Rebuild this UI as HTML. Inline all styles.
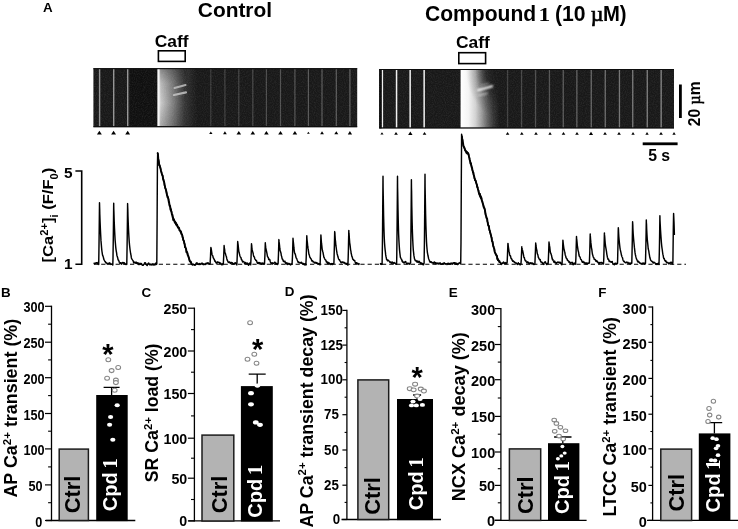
<!DOCTYPE html>
<html lang="en"><head><meta charset="utf-8"><title>Figure</title>
<style>html,body{margin:0;padding:0;background:#fff}svg{display:block}text{font-family:"Liberation Sans", Arial, Helvetica, sans-serif;font-weight:bold;fill:#000}.sf{font-family:"Liberation Serif", "Times New Roman", serif}</style>
</head><body>
<svg width="738" height="529" viewBox="0 0 738 529">
<defs>
<linearGradient id="gc" x1="0" x2="1" y1="0" y2="0"><stop offset="0" stop-color="#ffffff"/><stop offset="0.045" stop-color="#f0f0f0"/><stop offset="0.085" stop-color="#cacaca"/><stop offset="0.23" stop-color="#a6a6a6"/><stop offset="0.38" stop-color="#828282"/><stop offset="0.54" stop-color="#585858"/><stop offset="0.68" stop-color="#363636"/><stop offset="0.84" stop-color="#242424"/><stop offset="1" stop-color="#181818"/></linearGradient>
<linearGradient id="gd" x1="0" x2="1" y1="0" y2="0"><stop offset="0" stop-color="#ffffff"/><stop offset="0.2" stop-color="#f4f4f4"/><stop offset="0.38" stop-color="#d2d2d2"/><stop offset="0.52" stop-color="#a2a2a2"/><stop offset="0.68" stop-color="#646464"/><stop offset="0.84" stop-color="#343434"/><stop offset="1" stop-color="#181818"/></linearGradient>
<radialGradient id="gdiag" cx="1" cy="0" r="1"><stop offset="0" stop-color="#181818" stop-opacity="1"/><stop offset="0.4" stop-color="#181818" stop-opacity="0.82"/><stop offset="0.72" stop-color="#181818" stop-opacity="0.25"/><stop offset="1" stop-color="#181818" stop-opacity="0"/></radialGradient>
<linearGradient id="gv" x1="0" x2="0" y1="0" y2="1"><stop offset="0" stop-color="#181818" stop-opacity="0.38"/><stop offset="0.25" stop-color="#181818" stop-opacity="0.1"/><stop offset="0.6" stop-color="#181818" stop-opacity="0"/><stop offset="1" stop-color="#181818" stop-opacity="0.2"/></linearGradient>
<filter id="gr" x="0" y="0" width="100%" height="100%"><feTurbulence type="fractalNoise" baseFrequency="0.9" numOctaves="2" seed="3" result="n"/><feColorMatrix in="n" type="matrix" values="0 0 0 0 1  0 0 0 0 1  0 0 0 0 1  0.9 0 0 0 -0.32"/></filter>
<filter id="bl" x="-20%" y="-50%" width="140%" height="200%"><feGaussianBlur stdDeviation="0.5"/></filter>
<filter id="bl3" x="-20%" y="-80%" width="140%" height="260%"><feGaussianBlur stdDeviation="0.8"/></filter>
<filter id="bl2" x="-300%" y="-5%" width="700%" height="110%"><feGaussianBlur stdDeviation="0.35 0"/></filter>
</defs>
<rect width="738" height="529" fill="#fff"/>
<text x="42.9" y="11.9" font-size="13.4">A</text>
<text x="197.8" y="17.2" font-size="20.9">Control</text>
<text x="425" y="21.3" font-size="21.3" textLength="111.2" lengthAdjust="spacingAndGlyphs">Compound</text>
<text transform="translate(538.4 21.1) scale(1.32 1)" font-size="17.8" class="sf">1</text>
<text x="555" y="21.3" font-size="21.2" textLength="30.6" lengthAdjust="spacingAndGlyphs">(10</text>
<text x="590.8" y="21.2" font-size="22" class="sf" style="font-weight:normal" stroke="#000" stroke-width="0.7">µ</text>
<text x="603" y="21.3" font-size="21.2" textLength="23.6" lengthAdjust="spacingAndGlyphs">M)</text>
<text x="154.8" y="46.8" font-size="17.4">Caff</text>
<rect x="158.4" y="50.8" width="26.8" height="10.6" fill="#fff" stroke="#000" stroke-width="1.6"/>
<text x="456" y="48.3" font-size="17.4">Caff</text>
<rect x="458.8" y="52.7" width="26.8" height="10.9" fill="#fff" stroke="#000" stroke-width="1.6"/>
<g>
<rect x="93.4" y="68.2" width="263.8" height="59" fill="#181818"/>
<rect x="130" y="68.8" width="27.4" height="57.3" fill="#0f0f0f"/>
<rect x="157.4" y="68.8" width="40" height="57.3" fill="url(#gc)"/>
<rect x="159.6" y="68.8" width="27.8" height="57.3" fill="url(#gv)"/>
<rect x="98.9" y="69" width="1.4" height="57.4" fill="#949494"/>
<rect x="113" y="69" width="1.4" height="57.4" fill="#949494"/>
<rect x="127" y="69" width="1.4" height="57.4" fill="#949494"/>
<rect x="210.2" y="69" width="1.2" height="57" fill="#3e3e3e"/>
<rect x="224.3" y="69" width="1.2" height="57" fill="#414141"/>
<rect x="238.2" y="69" width="1.2" height="57" fill="#454545"/>
<rect x="252.2" y="69" width="1.2" height="57" fill="#484848"/>
<rect x="265.8" y="69" width="1.2" height="57" fill="#4c4c4c"/>
<rect x="279.9" y="69" width="1.2" height="57" fill="#505050"/>
<rect x="294.3" y="69" width="1.2" height="57" fill="#535353"/>
<rect x="307.8" y="69" width="1.2" height="57" fill="#575757"/>
<rect x="321.4" y="69" width="1.2" height="57" fill="#5a5a5a"/>
<rect x="335.7" y="69" width="1.2" height="57" fill="#5e5e5e"/>
<rect x="349.3" y="69" width="1.2" height="57" fill="#626262"/>
<path d="M174.5 88 L185.5 85" stroke="#c4c4c4" stroke-width="2.2" stroke-linecap="round" filter="url(#bl)" opacity="0.8"/>
<path d="M174 95 L186 92.4" stroke="#cccccc" stroke-width="2.2" stroke-linecap="round" filter="url(#bl)" opacity="0.8"/>
<rect x="93.4" y="68.2" width="263.8" height="59" filter="url(#gr)" opacity="0.16"/>
<rect x="93.4" y="68.2" width="263.8" height="1" fill="#0c0c0c"/>
<rect x="93.4" y="126.2" width="263.8" height="1" fill="#0c0c0c"/>
</g>
<g>
<rect x="379.2" y="69" width="294.8" height="59.4" fill="#181818"/>
<rect x="460.6" y="69.6" width="39" height="58.2" fill="url(#gd)"/>
<rect x="466" y="69.6" width="33.6" height="48" fill="url(#gdiag)"/>
<rect x="381.6" y="69.6" width="1.5" height="58.2" fill="#f0f0f0"/>
<rect x="395.8" y="69.6" width="1.5" height="58.2" fill="#f0f0f0"/>
<rect x="409.4" y="69.6" width="1.5" height="58.2" fill="#f0f0f0"/>
<rect x="423.4" y="69.6" width="1.5" height="58.2" fill="#f0f0f0"/>
<rect x="379.2" y="69" width="2.4" height="59.4" fill="#0a0a0a"/>
<rect x="506.9" y="69.6" width="1.3" height="58.2" fill="#404040"/>
<rect x="520.9" y="69.6" width="1.3" height="58.2" fill="#464646"/>
<rect x="534.9" y="69.6" width="1.3" height="58.2" fill="#4d4d4d"/>
<rect x="548.8" y="69.6" width="1.3" height="58.2" fill="#535353"/>
<rect x="562.6" y="69.6" width="1.3" height="58.2" fill="#5a5a5a"/>
<rect x="576.2" y="69.6" width="1.3" height="58.2" fill="#606060"/>
<rect x="590.6" y="69.6" width="1.3" height="58.2" fill="#676767"/>
<rect x="604.6" y="69.6" width="1.3" height="58.2" fill="#6d6d6d"/>
<rect x="618.8" y="69.6" width="1.3" height="58.2" fill="#747474"/>
<rect x="632.1" y="69.6" width="1.3" height="58.2" fill="#7a7a7a"/>
<rect x="646.6" y="69.6" width="1.3" height="58.2" fill="#818181"/>
<rect x="660.5" y="69.6" width="1.3" height="58.2" fill="#888888"/>
<path d="M478 90.2 L492 86.2" stroke="#fff" stroke-width="2.2" stroke-linecap="round" filter="url(#bl3)"/>
<path d="M478.5 95.4 L487 93.4" stroke="#e8e8e8" stroke-width="1.6" stroke-linecap="round" filter="url(#bl3)" opacity="0.6"/>
<path d="M481.5 85.4 L488.5 83.4" stroke="#e8e8e8" stroke-width="1.4" stroke-linecap="round" filter="url(#bl3)" opacity="0.5"/>
<rect x="379.2" y="69" width="294.8" height="59.4" filter="url(#gr)" opacity="0.16"/>
<rect x="379.2" y="69" width="294.8" height="1" fill="#0c0c0c"/>
<rect x="379.2" y="127.4" width="294.8" height="1" fill="#0c0c0c"/>
</g>
<path d="M99.4 130.7 l2.4 3.7 h-4.9 z" fill="#000"/>
<path d="M113.6 130.7 l2.4 3.7 h-4.9 z" fill="#000"/>
<path d="M127.7 130.7 l2.4 3.7 h-4.9 z" fill="#000"/>
<path d="M210.8 131.5 l1.7 2.6 h-3.3 z" fill="#000"/>
<path d="M224.9 131.3 l1.9 2.9 h-3.7 z" fill="#000"/>
<path d="M238.8 131 l2.3 3.5 h-4.6 z" fill="#000"/>
<path d="M252.8 131 l2.3 3.5 h-4.6 z" fill="#000"/>
<path d="M266.4 131 l2.3 3.5 h-4.6 z" fill="#000"/>
<path d="M280.5 131 l2.3 3.5 h-4.6 z" fill="#000"/>
<path d="M294.9 131 l2.3 3.5 h-4.6 z" fill="#000"/>
<path d="M308.4 131.7 l1.4 2.1 h-2.8 z" fill="#000"/>
<path d="M322 131.3 l1.9 2.9 h-3.7 z" fill="#000"/>
<path d="M336.3 131.2 l2 3.1 h-4 z" fill="#000"/>
<path d="M349.9 131.1 l2.2 3.3 h-4.3 z" fill="#000"/>
<path d="M382 132.2 l1.5 2.3 h-3.1 z" fill="#000"/>
<path d="M396 131.9 l1.9 2.9 h-3.7 z" fill="#000"/>
<path d="M410.3 131.6 l2.2 3.4 h-4.4 z" fill="#000"/>
<path d="M424.5 131.9 l1.9 2.9 h-3.7 z" fill="#000"/>
<path d="M507.6 131.9 l1.8 2.8 h-3.6 z" fill="#000"/>
<path d="M521.8 131.9 l1.8 2.8 h-3.6 z" fill="#000"/>
<path d="M536 131.9 l1.8 2.8 h-3.6 z" fill="#000"/>
<path d="M550 132.1 l1.7 2.6 h-3.3 z" fill="#000"/>
<path d="M563.5 131.9 l1.8 2.8 h-3.6 z" fill="#000"/>
<path d="M577 131.9 l1.8 2.8 h-3.6 z" fill="#000"/>
<path d="M591 131.7 l2.1 3.2 h-4.2 z" fill="#000"/>
<path d="M605 131.9 l1.9 2.9 h-3.7 z" fill="#000"/>
<path d="M619 131.9 l1.9 2.9 h-3.7 z" fill="#000"/>
<path d="M633 132.1 l1.7 2.6 h-3.3 z" fill="#000"/>
<path d="M647 132.1 l1.7 2.6 h-3.3 z" fill="#000"/>
<path d="M661 131.9 l1.9 2.9 h-3.7 z" fill="#000"/>
<path d="M674 132.1 l1.7 2.6 h-3.3 z" fill="#000"/>
<rect x="679" y="84.5" width="2.8" height="33.5" fill="#000"/>
<text transform="translate(699.8 126.2) rotate(-90)" font-size="15.6">20 <tspan font-family='"Liberation Serif", "Times New Roman", serif' font-weight="normal" stroke="#000" stroke-width="0.5" font-size="16">µ</tspan>m</text>
<rect x="642.7" y="142.4" width="34.9" height="2.8" fill="#000"/>
<text x="648.2" y="161" font-size="15.8">5 s</text>
<path d="M75.4 171 H81.7 V264.2 H75.4" fill="none" stroke="#000" stroke-width="1.6"/>
<text x="64" y="177.6" font-size="15.4">5</text>
<text x="64" y="269.4" font-size="15.4">1</text>
<text transform="translate(52.9 262.4) rotate(-90) scale(1.085 1)" font-size="15.3">[Ca<tspan font-size="10.2" dy="-4.6">2+</tspan><tspan dy="4.6">]</tspan><tspan font-size="10.2" dy="4.8">i</tspan><tspan dy="-4.8"> (F/F</tspan><tspan font-size="10.2" dy="4.8">0</tspan><tspan dy="-4.8">)</tspan></text>
<path d="M94 264.3 H686" stroke="#000" stroke-width="1.1" stroke-dasharray="4.2 3" fill="none"/>
<path d="M93.8 263.7 94.1 263.3 94.4 263.8 94.7 263.2 95 263.5 95.3 263.5 95.6 262.9 95.9 263.3 96.2 262.8 96.5 263.1 96.8 262.7 97.1 262.5 97.4 262.9 97.7 263.8 98 263.3 98.3 263.1 98.6 263.6 98.7 264.5 98.9 252 99.1 237.4 99.2 230.2 99.5 202.8 99.7 209.2 99.8 213.9 100.1 222.3 100.4 229.2 100.7 235.2 101 240.9 101.3 244.4 101.6 248 101.9 251 102.2 252.9 102.5 254.9 102.8 255.6 103.1 256.4 103.4 257.3 103.7 258.9 104 259.6 104.3 260.1 104.6 260.9 104.9 261.3 105.2 261.4 105.5 262.3 105.8 262.8 106.1 262.5 106.4 262.8 106.7 263 107 263.7 107.3 263.9 107.6 263.4 107.9 264.2 108.2 263.3 108.5 263.3 108.8 263.8 109.1 263.2 109.4 263.3 109.7 262.7 110 263.3 110.3 263.9 110.6 264 110.9 264.5 111.2 264 111.5 264.2 111.8 264.2 112.1 264.2 112.4 264 112.7 264.5 112.8 265 113 258.2 113.3 237.9 113.6 211.9 113.7 203.2 113.8 209.1 113.9 211.6 114.2 221.3 114.5 228.4 114.8 234.4 115.1 239.9 115.4 243.2 115.7 246.8 116 249.3 116.3 251.3 116.6 252.9 116.9 255.4 117.2 256.3 117.5 257.3 117.8 258.3 118.1 259.9 118.4 259.9 118.7 260.5 119 261.2 119.3 262.2 119.6 262.9 119.9 263.4 120.2 262.9 120.5 262.8 120.8 262.7 121.1 263.5 121.4 264.2 121.7 263.3 122 262.9 122.3 262.6 122.6 262.5 122.9 262.9 123.2 263.3 123.5 263 123.8 262.5 124.1 262.8 124.4 262.9 124.7 263.3 125 264.2 125.3 264.4 125.6 264.2 125.9 264.3 126.2 264.4 126.5 263.5 126.8 264.3 126.8 263 127.1 245.8 127.2 238.6 127.4 221.8 127.6 203.6 127.7 206.9 127.8 209.1 128 216.7 128.3 224.6 128.6 231.2 128.9 236.6 129.2 241.4 129.5 244.7 129.8 247.5 130.1 250 130.4 252 130.7 254 131 255.1 131.3 257.4 131.6 258.7 131.9 259 132.2 259.5 132.5 260 132.8 260.5 133.1 260.6 133.4 261.8 133.7 262.9 134 262.8 134.3 262.9 134.6 262.3 134.9 262 135.2 262.2 135.5 262.2 135.8 263.2 136.1 262.7 136.4 262.2 136.7 263.4 137 263.5 137.3 263 137.6 263.3 137.9 262.7 138.2 263.1 138.5 264.1 138.8 264.6 139.1 264.6 139.4 263.9 139.7 263.7 140 263.2 140.3 263.9 140.6 263.9 140.9 264.3 141.2 263.9 141.5 263.5 141.8 264.2 142.1 264.9 142.4 265.2 142.7 265.2 143 265.3 143.3 265.2 143.6 264.4 143.9 264.3 144.2 263.9 144.5 263.2 144.8 262.7 145.1 262.8 145.4 262.8 145.7 263.6 146 264.4 146.3 264.2 146.6 264.8 146.9 265.3 147.2 265.6 147.5 264.8 147.8 264.1 148.1 263.6 148.4 263.3 148.7 263 149 263.6 149.3 264.4 149.6 264.8 149.9 264.5 150.2 264.6 150.5 264.8 150.8 263.9 151.1 264.2 151.4 264.8 151.7 265 152 265 152.3 264.6 152.6 263.9 152.9 264.4 153.2 264 153.5 264.5 153.8 265.1 154.1 264.5 154.4 264.2 154.7 264.8 155 264.9 155.3 264.1 155.6 263.4 155.9 263.1 156.2 264 156.5 264.5 156.8 263.8 157.1 221.3 157.4 167.9 157.7 153.1 158 154.9 158.3 159 158.6 160.3 158.9 162.4 159.2 165.2 159.5 165 159.8 166 160.1 167.1 160.4 167.9 160.7 169.4 161 171 161.3 171.7 161.6 172.9 161.9 174.1 162.2 175.1 162.5 175.3 162.8 176.8 163.1 179.2 163.4 179.5 163.7 181.2 164 181.4 164.3 182.9 164.6 185.3 164.9 186 165.2 188 165.5 188.5 165.8 189.4 166.1 190.5 166.4 191.8 166.7 193.5 167 195.2 167.3 195.6 167.6 197.4 167.9 197 168.2 198.2 168.5 199.4 168.8 202.1 169.1 202 169.4 204.3 169.7 206 170 205.8 170.3 207.4 170.6 209.9 170.9 209.2 171.2 211.2 171.5 211.7 171.8 214 172.1 214.8 172.4 214.8 172.7 217.3 173 217.3 173.3 220 173.6 219 173.9 219.4 174.2 220.4 174.5 221.3 174.8 222.6 175.1 221.7 175.4 223.1 175.7 222.6 176 224.4 176.3 223.5 176.6 225.3 176.9 224.6 177.2 225 177.5 226.4 177.8 227.1 178.1 227 178.4 228 178.7 227.6 179 228 179.3 229.1 179.6 230.5 179.9 230.5 180.2 230.6 180.5 230.9 180.8 232.5 181.1 231.8 181.4 233.9 181.7 234.1 182 234.4 182.3 235.4 182.6 237.3 182.9 237.7 183.2 239.8 183.5 240.3 183.8 240.8 184.1 242 184.4 243.6 184.7 244.4 185 247.1 185.3 246.8 185.6 247.8 185.9 248.5 186.2 249.7 186.5 252.2 186.8 251.6 187.1 252.7 187.4 253 187.7 255 188 255.4 188.3 256 188.6 257.1 188.9 258 189.2 259.1 189.5 260.2 189.8 261.1 190.1 261.5 190.4 261.3 190.7 263.1 191 263 191.3 262 191.6 264.4 191.9 264.5 192.2 264.7 192.5 265 192.8 264 193.1 264.1 193.4 264.1 193.7 264.6 194 264.9 194.3 265.1 194.6 264.8 194.9 265.2 195.2 265.1 195.5 265 195.8 264.2 196.1 263.4 196.4 263 196.7 263.1 197 262.8 197.3 263.8 197.6 263.9 197.9 264.2 198.2 264.3 198.5 264.5 198.8 264.3 199.1 263.4 199.4 264.1 199.7 264.5 200 264.3 200.3 264.3 200.6 264.4 200.9 263.6 201.2 264.1 201.5 263.7 201.8 263.1 202.1 263 202.4 263.7 202.7 263.4 203 264 203.3 264.7 203.6 264.5 203.9 264.1 204.2 264 204.5 264.3 204.8 264.6 205.1 264.6 205.4 264.6 205.7 263.7 206 263.3 206.3 263.1 206.6 263.8 206.9 263.6 207.2 263.8 207.5 263.1 207.8 262.7 208.1 262.8 208.4 263.5 208.7 264 209 264.3 209.3 263.8 209.6 263.9 209.9 263.9 210.1 263.9 210.2 261.5 210.5 256.7 210.8 249.1 210.9 247.4 211.1 249 211.1 248.2 211.4 250 211.7 252.2 212 254.2 212.3 255.1 212.6 255.6 212.9 256.1 213.2 257.9 213.5 258 213.8 258.9 214.1 258.9 214.4 259.7 214.7 261 215 260.6 215.3 261.6 215.6 261.8 215.9 262.6 216.2 262.9 216.5 262.4 216.8 263.2 217.1 263.1 217.4 262.3 217.7 261.8 218 262.3 218.3 262.6 218.6 262.6 218.9 262.3 219.2 262.5 219.5 262.6 219.8 263.5 220.1 262.8 220.4 263.5 220.7 264.1 221 263.4 221.3 264.2 221.6 264.4 221.9 264.9 222.2 264.2 222.5 263.9 222.8 263.7 223.1 264.6 223.2 264.5 223.4 262.2 223.7 256.3 224 248.8 224.1 245.5 224.2 246.3 224.3 247.6 224.6 249.3 224.9 251.9 225.2 252.9 225.5 253.8 225.8 255.2 226.1 255.8 226.4 256.7 226.7 258.4 227 259.6 227.3 260.4 227.6 260.8 227.9 261.6 228.2 262.3 228.5 262.3 228.8 262.6 229.1 261.8 229.4 262.4 229.7 262.4 230 263 230.3 263.2 230.6 262.8 230.9 262.2 231.2 263.3 231.5 262.7 231.8 262.9 232.1 262.9 232.4 262.8 232.7 263.4 233 264.3 233.3 263.7 233.6 263.9 233.9 263.6 234.2 263.7 234.5 263.6 234.8 263.1 235.1 262.8 235.4 262.7 235.7 263.8 236 263.8 236.3 263.4 236.6 264.2 236.8 264.9 236.9 263.9 237.2 256.9 237.3 253.9 237.5 247.7 237.7 241.5 237.8 242.1 237.8 242.5 238.1 244.7 238.4 247.5 238.7 250.3 239 252.3 239.3 253.4 239.6 254.5 239.9 255.7 240.2 256.5 240.5 257.2 240.8 257.4 241.1 258.1 241.4 259.7 241.7 259.6 242 260.3 242.3 261 242.6 261.9 242.9 261.6 243.2 261.5 243.5 261.5 243.8 261.8 244.1 262.1 244.4 263.2 244.7 263.7 245 264.1 245.3 263.1 245.6 262.5 245.9 263.1 246.2 263.9 246.5 263.8 246.8 263.8 247.1 263 247.4 263.1 247.7 264 248 264.4 248.3 264.8 248.6 265.2 248.9 264.3 249.2 263.5 249.5 263.1 249.8 263.4 250.1 263.9 250.4 264.6 250.7 264.7 250.7 264.2 251 258.6 251.1 255.8 251.3 250.4 251.5 243.7 251.6 245.1 251.7 245 251.9 247.8 252.2 249.9 252.5 251.1 252.8 252.1 253.1 253.2 253.4 254.9 253.7 256.4 254 256.6 254.3 256.9 254.6 258.1 254.9 259 255.2 259.5 255.5 259.7 255.8 260.5 256.1 260.2 256.4 260.5 256.7 261.1 257 262.3 257.3 262.7 257.6 263.4 257.9 263.2 258.2 262.7 258.5 262.5 258.8 263.5 259.1 263.8 259.4 263.3 259.7 262.6 260 263 260.3 263.5 260.6 263.4 260.9 263.1 261.2 263.6 261.5 264.3 261.8 263.7 262.1 263 262.4 263 262.7 263.2 263 263.7 263.3 263.3 263.6 264 263.9 264.3 264.2 264.2 264.4 263.6 264.5 263.9 264.8 257.5 264.9 255.5 265.1 249.3 265.3 242.8 265.4 244.3 265.4 244.4 265.7 247.2 266 249.1 266.3 250.3 266.6 251.6 266.9 253.1 267.2 254.8 267.5 256.6 267.8 256.8 268.1 257.5 268.4 257.9 268.7 259.5 269 259.4 269.3 259.3 269.6 259.4 269.9 260.1 270.2 261.4 270.5 262.3 270.8 262.7 271.1 263.5 271.4 264 271.7 263.3 272 262.7 272.3 263.6 272.6 263.9 272.9 262.9 273.2 263.4 273.5 263.2 273.8 263.1 274.1 263 274.4 262.7 274.7 262.2 275 262.4 275.3 262.6 275.6 263.8 275.9 263.2 276.2 264.1 276.5 263.6 276.8 263.4 277.1 264.1 277.4 264.5 277.7 264.2 278 263.4 278.1 263.5 278.3 258.6 278.5 253.8 278.6 250.1 278.9 239.6 279.1 241.9 279.2 242.5 279.5 245.2 279.8 248.2 280.1 250.5 280.4 251.3 280.7 252.2 281 253.2 281.3 255.5 281.6 256.2 281.9 257.7 282.2 259.1 282.5 259.2 282.8 259.4 283.1 260.8 283.4 261.2 283.7 261 284 261.7 284.3 261.6 284.6 261.6 284.9 261.2 285.2 262.1 285.5 263.1 285.8 263.3 286.1 264 286.4 263 286.7 262.7 287 262.9 287.3 263.8 287.6 264.5 287.9 264 288.2 263.5 288.5 263.4 288.8 263.5 289.1 264.3 289.4 263.6 289.7 264.1 290 264.4 290.3 264.7 290.6 264.9 290.9 264.7 291.2 264.1 291.5 263.8 291.8 263.6 292.1 264.2 292.1 263.4 292.4 258.1 292.6 253 292.7 249.4 293 238.3 293.1 239.5 293.3 241.6 293.6 244.3 293.9 247.7 294.2 250.3 294.5 252.6 294.8 253.4 295.1 253.9 295.4 254.6 295.7 256 296 257.4 296.3 258.1 296.6 258.5 296.9 259.1 297.2 260 297.5 260.8 297.8 261.5 298.1 262.3 298.4 262.5 298.7 261.9 299 262.7 299.3 262.4 299.6 262.7 299.9 262.6 300.2 263.2 300.5 262.7 300.8 262.5 301.1 262.4 301.4 262.3 301.7 263.3 302 263.5 302.3 263.3 302.6 263.3 302.9 264.2 303.2 264.1 303.5 263.5 303.8 264.1 304.1 264.3 304.4 264.9 304.7 263.9 305 263.8 305.3 264.4 305.6 264.7 305.9 265.1 305.9 263.9 306.2 257.9 306.4 250.8 306.5 246.9 306.8 235.8 306.9 237.8 307.1 240.3 307.4 242.9 307.7 246.2 308 248.2 308.3 249.7 308.6 252 308.9 254.2 309.2 254.6 309.5 255.9 309.8 257.1 310.1 257.5 310.4 258.1 310.7 258.4 311 258.8 311.3 259.3 311.6 260.2 311.9 261.1 312.2 261 312.5 260.7 312.8 261.1 313.1 261.9 313.4 261.8 313.7 261.9 314 261.9 314.3 262.8 314.6 263.1 314.9 262.5 315.2 262.2 315.5 262.5 315.8 262.9 316.1 263.4 316.4 262.8 316.7 262.6 317 263.3 317.3 263.3 317.6 263.1 317.9 263.1 318.2 264.1 318.5 263.7 318.8 263.9 319.1 263.6 319.4 263.6 319.7 264.3 320 264.9 320.1 264.4 320.3 258 320.5 251.9 320.6 247.7 320.9 235 321.1 237.9 321.2 239.5 321.5 243.2 321.8 245.6 322.1 248.6 322.4 250.3 322.7 251.4 323 252.3 323.3 254.1 323.6 255.7 323.9 257.4 324.2 257.5 324.5 258.5 324.8 259 325.1 259.7 325.4 259.7 325.7 260 326 260.7 326.3 261.9 326.6 261.4 326.9 261.8 327.2 262.6 327.5 263.5 327.8 262.8 328.1 262.3 328.4 263.4 328.7 264.1 329 263.8 329.3 263 329.6 263.9 329.9 263.6 330.2 264.2 330.5 264.2 330.8 264.6 331.1 263.7 331.4 264.2 331.7 263.6 332 263.5 332.3 264.2 332.6 264.6 332.9 263.8 333.2 263.4 333.5 263.4 333.8 263.6 333.9 263.5 334.1 256.4 334.3 248.6 334.4 245 334.7 231.6 334.9 233 335 235.4 335.3 239.7 335.6 242.2 335.9 245.7 336.2 247.5 336.5 250 336.8 251.9 337.1 253.7 337.4 254.7 337.7 255.9 338 257.1 338.3 257.9 338.6 259 338.9 259.5 339.2 260 339.5 259.7 339.8 260.6 340.1 261.1 340.4 261.1 340.7 262 341 262.7 341.3 262.7 341.6 262.3 341.9 262.5 342.2 262.1 342.5 261.9 342.8 262.3 343.1 262.1 343.4 262.5 343.7 262.9 344 262.4 344.3 263.1 344.6 262.6 344.9 263.4 345.2 263.9 345.5 263.9 345.8 263.2 346.1 263.4 346.4 263.4 346.7 264.3 347 263.5 347.3 264.2 347.6 264.9 347.9 264.9 347.9 265.1 348.2 257.1 348.4 249.7 348.5 244.8 348.8 230.4 348.9 233.2 349.1 234.4 349.4 238.8 349.7 242.8 350 244.7 350.3 247.1 350.6 249.8 350.9 251.1 351.2 253.6 351.5 254.5 351.8 256.3 352.1 256.6 352.4 257.7 352.7 259.2 353 259.2 353.3 259.5 353.6 260.2 353.9 260.4 354.2 260.3 354.5 260.5 354.8 260.6 355.1 262 355.4 262.6 355.7 263.4 356 262.7 356.3 263.4 356.6 262.7 356.9 263 357.2 263.4 357.5 263.2 357.8 263.9 358.1 263.9 358.4 263.9 358.7 264.5 359 263.6 359.3 264.4" fill="none" stroke="#000" stroke-width="1.45" stroke-linejoin="round"/>
<path d="M380 263.9 380.3 263.7 380.6 264.2 380.9 263.6 381.2 264.4 381.5 264.3 381.8 263.9 382.1 264.2 382.1 264 382.4 245.5 382.6 225.6 382.7 213.4 383 176.3 383.1 187.9 383.3 198.5 383.6 215.7 383.9 227.6 384.2 236.5 384.5 242.5 384.8 246.5 385.1 249.6 385.4 252.2 385.7 254.9 386 256.5 386.3 257.9 386.6 259.6 386.9 259.5 387.2 259.8 387.5 260.7 387.8 260.3 388.1 260.1 388.4 260.6 388.7 260.6 389 261 389.3 261.1 389.6 261.8 389.9 262.2 390.2 262 390.5 262.5 390.8 262.6 391.1 262.2 391.4 263.2 391.7 262.7 392 262.3 392.3 262 392.6 262.6 392.9 263.4 393.2 263.8 393.5 263.5 393.8 263.1 394.1 262.4 394.4 263 394.7 263.2 395 263.1 395.3 263.4 395.6 263.4 395.9 264.1 396.2 264.3 396.5 263.6 396.6 264.2 396.8 254.1 397.1 225.6 397.4 189.6 397.5 176.2 397.6 187.7 397.7 192.1 398 209.4 398.3 223.1 398.6 233.7 398.9 240.2 399.2 245.2 399.5 249.6 399.8 252.6 400.1 255.1 400.4 257.3 400.7 257.8 401 258.5 401.3 259.1 401.6 259.2 401.9 260.6 402.2 261.5 402.5 262 402.8 261.3 403.1 262.2 403.4 262.6 403.7 262.5 404 263 404.3 262.8 404.6 262.3 404.9 261.9 405.2 261.8 405.5 261.5 405.8 261.8 406.1 262.6 406.4 263.1 406.7 263.7 407 263.9 407.3 263.3 407.6 263.4 407.9 263.2 408.2 263.7 408.5 263.7 408.8 263.2 409.1 263.5 409.4 264.2 409.7 263.5 410 264.1 410.3 263.1 410.6 262.9 410.6 260.5 410.9 236.8 411 227.3 411.2 205 411.4 179.7 411.5 188.1 411.6 191.2 411.8 206.2 412.1 221 412.4 231.5 412.7 239.4 413 245.2 413.3 250 413.6 252.7 413.9 255.4 414.2 257.2 414.5 258.8 414.8 259.3 415.1 260.3 415.4 260.7 415.7 260.7 416 260.6 416.3 261.3 416.6 260.9 416.9 262 417.2 261.6 417.5 261.2 417.8 261 418.1 262.3 418.4 262.2 418.7 261.9 419 261.5 419.3 261.3 419.6 262.2 419.9 262.7 420.2 263.2 420.5 263.6 420.8 262.7 421.1 263.1 421.4 262.9 421.7 263.6 422 264 422.3 264.4 422.6 263.4 422.9 264 423.2 264.5 423.5 264.8 423.8 263.7 424.1 263.2 424.1 262.7 424.4 243.9 424.6 224 424.7 212.9 425 174.2 425.1 186.9 425.3 197.4 425.6 213.8 425.9 225.5 426.2 234.1 426.5 241.6 426.8 246.2 427.1 249.8 427.4 252.7 427.7 254.2 428 255.8 428.3 257 428.6 258.7 428.9 259.3 429.2 259.8 429.5 261.1 429.8 261.4 430.1 262.2 430.4 262.3 430.7 261.6 431 261.7 431.3 261.9 431.6 262.6 431.9 262.4 432.2 262.8 432.5 262.9 432.8 262.5 433.1 263.2 433.4 262.5 433.7 263.2 434 262.7 434.3 262 434.6 262 434.9 262.8 435.2 263.8 435.5 262.8 435.8 263 436.1 263.1 436.4 263.7 436.7 263.1 437 263.2 437.3 263 437.6 263.7 437.9 263.3 438.2 264.1 438.5 263.5 438.8 263.1 439.1 263.7 439.4 263.7 439.7 263.1 440 263.5 440.3 262.9 440.6 263.6 440.9 264 441.2 264.3 441.5 264.3 441.8 263.9 442.1 263.7 442.4 263.5 442.7 264.2 443 263.4 443.3 264.1 443.6 263.2 443.9 262.9 444.2 262.8 444.5 263.8 444.8 263.7 445.1 263.5 445.4 264.2 445.7 263.6 446 263.6 446.3 263.7 446.6 264.1 446.9 264.4 447.2 264.4 447.5 263.9 447.8 263.5 448.1 263 448.4 263.8 448.7 264 449 264.3 449.3 263.6 449.6 263.5 449.9 264 450.2 264 450.5 263.3 450.8 263.4 451.1 264.1 451.4 263.6 451.7 263.1 452 263 452.3 263.6 452.6 264.2 452.9 263.4 453.2 263 453.5 262.8 453.8 262.9 454.1 263.2 454.4 262.8 454.7 262.9 455 262.7 455.3 263.8 455.6 264.1 455.9 263.3 456.2 264.2 456.5 263.4 456.8 263.3 457.1 264.2 457.4 264.5 457.7 264.6 458 264.2 458.3 263.5 458.6 263.8 458.9 263.1 459.2 262.9 459.5 263 459.8 262.5 460.1 262.7 460.4 263.5 460.7 263.9 461 242.3 461.3 183.6 461.6 134.3 461.9 136.4 462.2 138.7 462.5 139.9 462.8 142.5 463.1 143.3 463.4 145.9 463.7 146.4 464 147.2 464.3 147.5 464.6 148.7 464.9 149.1 465.2 150.6 465.5 150.5 465.8 151.1 466.1 151.3 466.4 152.7 466.7 152.3 467 151.9 467.3 153.5 467.6 152.7 467.9 153.5 468.2 153.2 468.5 154.2 468.8 155.8 469.1 156.9 469.4 157.9 469.7 160 470 160.7 470.3 162.1 470.6 163.9 470.9 163.1 471.2 165 471.5 166.2 471.8 167.9 472.1 168 472.4 170.2 472.7 170.8 473 172.5 473.3 172.4 473.6 174.7 473.9 175.5 474.2 176.4 474.5 178.4 474.8 178.8 475.1 180.3 475.4 180.2 475.7 180.8 476 182.3 476.3 183.1 476.6 184.1 476.9 184.9 477.2 187.1 477.5 187 477.8 188.5 478.1 189.8 478.4 190.2 478.7 192.3 479 193.2 479.3 194.1 479.6 195 479.9 193.9 480.2 196.7 480.5 195.9 480.8 196.4 481.1 198.5 481.4 197.9 481.7 200 482 200.9 482.3 201.4 482.6 202.8 482.9 203.9 483.2 204.7 483.5 206 483.8 207.5 484.1 207.3 484.4 208.2 484.7 209.2 485 210.6 485.3 212.5 485.6 214.5 485.9 215.6 486.2 216.2 486.5 218 486.8 218.2 487.1 218.7 487.4 221.2 487.7 222.4 488 224.3 488.3 225.6 488.6 225.8 488.9 226 489.2 228.6 489.5 230.3 489.8 230.7 490.1 232.6 490.4 233.1 490.7 234.6 491 235.2 491.3 236.7 491.6 237.7 491.9 240.5 492.2 241.4 492.5 241.6 492.8 243.5 493.1 245.2 493.4 246.4 493.7 247.3 494 248 494.3 249 494.6 251.2 494.9 252.4 495.2 252.8 495.5 253.6 495.8 254.3 496.1 254.2 496.4 255.6 496.7 255.5 497 256.2 497.3 258.9 497.6 258.5 497.9 260.2 498.2 259.8 498.5 260.4 498.8 260.8 499.1 262.2 499.4 261.7 499.7 261.1 500 262.4 500.3 262.4 500.6 262.6 500.9 264.2 501.2 264.4 501.5 264.1 501.8 263.8 502.1 263.1 502.4 263.6 502.7 263.2 503 262.8 503.3 262.3 503.6 262 503.9 262.9 504.2 262.6 504.5 263.7 504.8 263.1 505.1 263.9 505.4 263.2 505.7 262.6 506 263.3 506.3 263.1 506.6 263.7 506.9 263.2 507.1 262.6 507.2 261.2 507.5 254.6 507.8 246.5 507.9 243.4 508.1 243.8 508.1 244.5 508.4 247.1 508.7 249 509 251.4 509.3 252.3 509.6 254.4 509.9 255.7 510.2 255.7 510.5 255.9 510.8 257.3 511.1 258.6 511.4 258.5 511.7 258.9 512 260 512.3 259.9 512.6 261.1 512.9 261.3 513.2 260.9 513.5 261.1 513.8 261.7 514.1 261.9 514.4 262.4 514.7 262 515 262.8 515.3 262.6 515.6 263 515.9 263.3 516.2 263.1 516.5 263 516.8 263.5 517.1 264.2 517.4 264.4 517.7 264.1 518 263.6 518.3 262.8 518.6 263.8 518.9 264 519.2 264.4 519.5 263.8 519.8 263.9 520.1 264.6 520.4 264.8 520.7 264.5 521 263.9 521 263.2 521.3 258.8 521.4 256.2 521.6 251.8 521.8 246.7 521.9 247.9 522 248.5 522.2 249.4 522.5 250.2 522.8 251.5 523.1 253 523.4 254.5 523.7 256.2 524 257.6 524.3 257.4 524.6 258.7 524.9 259.7 525.2 260.6 525.5 260.8 525.8 260.6 526.1 261.5 526.4 262 526.7 262.3 527 262.9 527.3 262.5 527.6 261.8 527.9 262.2 528.2 262.9 528.5 262.4 528.8 263 529.1 263.7 529.4 263.1 529.7 263.3 530 263.5 530.3 263.4 530.6 262.9 530.9 262.7 531.2 263.3 531.5 263.8 531.8 263.6 532.1 262.9 532.4 263.6 532.7 264 533 263.4 533.3 263.6 533.6 264.2 533.9 264.6 534.2 264.3 534.5 264 534.8 264 534.9 263.4 535.1 258.9 535.3 253.9 535.4 251.9 535.7 243 535.9 244.6 536 245.7 536.3 248 536.6 249.3 536.9 250.5 537.2 253.1 537.5 254.2 537.8 254.7 538.1 256.2 538.4 257.6 538.7 257.7 539 258.7 539.3 259 539.6 259.7 539.9 259.4 540.2 259.4 540.5 261 540.8 261.9 541.1 262 541.4 262.2 541.7 261.9 542 262.6 542.3 262.5 542.6 263.4 542.9 263.6 543.2 263.9 543.5 264.4 543.8 263.6 544.1 262.7 544.4 262.4 544.7 262.2 545 262 545.3 261.7 545.6 262.4 545.9 263.4 546.2 263.4 546.5 264.1 546.8 264.6 547.1 263.5 547.4 263.7 547.7 263.5 548 262.9 548.1 263.9 548.3 261 548.6 253.7 548.9 244.7 549 242 549.1 243.4 549.2 243.4 549.5 245.7 549.8 247.4 550.1 250.3 550.4 252.6 550.7 253.3 551 253.7 551.3 254.7 551.6 255.7 551.9 257.5 552.2 258.8 552.5 259.8 552.8 259.3 553.1 260.3 553.4 260.9 553.7 261.4 554 262.3 554.3 261.5 554.6 261.1 554.9 262 555.2 262.9 555.5 263.1 555.8 262.6 556.1 262.9 556.4 263.3 556.7 262.6 557 262.5 557.3 262.3 557.6 262.1 557.9 262.5 558.2 262.2 558.5 262.2 558.8 262.1 559.1 262.8 559.4 262.3 559.7 263 560 262.7 560.3 262.3 560.6 263.4 560.9 263 561.2 263.9 561.5 264.4 561.8 264.7 562 263.8 562.1 263 562.4 255.4 562.5 253.3 562.7 247.3 562.9 240.2 563 241 563 241.1 563.3 244 563.6 246.3 563.9 248.6 564.2 249.8 564.5 251.2 564.8 252.2 565.1 254.2 565.4 255.5 565.7 256 566 257.7 566.3 258 566.6 258.6 566.9 258.8 567.2 259.2 567.5 260.5 567.8 260.6 568.1 260.5 568.4 261 568.7 261.2 569 262.2 569.3 261.7 569.6 262.8 569.9 262.1 570.2 263 570.5 263.3 570.8 262.7 571.1 262.9 571.4 262.6 571.7 262.5 572 262.3 572.3 262.4 572.6 263.6 572.9 264.3 573.2 264.7 573.5 263.6 573.8 263.2 574.1 264 574.4 263.1 574.7 263.6 575 263.3 575.3 264.2 575.6 263.2 575.6 263.8 575.9 258 576.1 251.2 576.2 247.2 576.5 236.5 576.6 238.5 576.8 239.7 577.1 242.8 577.4 246.2 577.7 247.9 578 250.1 578.3 251.2 578.6 252.4 578.9 254.5 579.2 256 579.5 256.4 579.8 256.7 580.1 257.1 580.4 258.4 580.7 259.2 581 259.5 581.3 259.7 581.6 260.5 581.9 261.3 582.2 262.1 582.5 262.3 582.8 261.9 583.1 261.4 583.4 262.3 583.7 262.3 584 262.9 584.3 262.2 584.6 263 584.9 262.8 585.2 263.5 585.5 264 585.8 263.8 586.1 262.8 586.4 263.7 586.7 263.6 587 264.1 587.3 263.5 587.6 263 587.9 263.7 588.2 263.5 588.5 263 588.8 263 589.1 263.3 589.4 262.6 589.4 262.3 589.7 253.8 589.8 250.4 590 242 590.2 233.9 590.3 235.9 590.4 236.9 590.6 239.5 590.9 242.9 591.2 245.3 591.5 248.1 591.8 249.3 592.1 251.8 592.4 254 592.7 255 593 256 593.3 257 593.6 257.8 593.9 257.7 594.2 259.3 594.5 259.4 594.8 259.4 595.1 259.5 595.4 259.8 595.7 261.1 596 260.7 596.3 260.6 596.6 261.6 596.9 261.5 597.2 261.1 597.5 261.9 597.8 262.4 598.1 262.6 598.4 263.1 598.7 262.5 599 263.4 599.3 263.7 599.6 262.8 599.9 262.4 600.2 262.8 600.5 263 600.8 262.8 601.1 262.4 601.4 262.7 601.7 262.4 602 262.9 602.3 263.7 602.6 263.1 602.9 263.4 603.2 263.9 603.5 263.2 603.5 263.9 603.8 258.1 604 250.3 604.1 245.9 604.4 232.9 604.5 234.9 604.7 236.6 605 240.9 605.3 244.2 605.6 246.3 605.9 248.1 606.2 249.9 606.5 251.7 606.8 254.1 607.1 255.7 607.4 257.2 607.7 258.3 608 259.2 608.3 258.8 608.6 259.4 608.9 260.6 609.2 261.5 609.5 261.1 609.8 261.2 610.1 261.7 610.4 261.7 610.7 262 611 261.5 611.3 261.8 611.6 262.2 611.9 261.7 612.2 261.5 612.5 262.8 612.8 263.4 613.1 264 613.4 264 613.7 264.2 614 264.5 614.3 264.8 614.6 263.5 614.9 263.7 615.2 263.3 615.5 263.6 615.8 263.2 616.1 263.4 616.4 264.1 616.7 264.1 617 263.5 617.3 263.6 617.5 263.5 617.6 260.5 617.9 248 618.2 232.8 618.3 227.8 618.5 229.8 618.5 231 618.8 236.3 619.1 239.9 619.4 242.8 619.7 245.6 620 248.1 620.3 249.7 620.6 251.1 620.9 252.4 621.2 253.9 621.5 255.3 621.8 256.2 622.1 257 622.4 257.5 622.7 258.6 623 260 623.3 260.6 623.6 261.1 623.9 261.6 624.2 261.3 624.5 262 624.8 262.1 625.1 262.4 625.4 262.7 625.7 262.7 626 262.5 626.3 262.3 626.6 262.1 626.9 262.5 627.2 262.6 627.5 263 627.8 262.3 628.1 262.4 628.4 263.4 628.7 263 629 263.2 629.3 263.3 629.6 263 629.9 264 630.2 263.5 630.5 264 630.8 263.3 631.1 262.7 631.4 263.6 631.7 263.5 631.8 262.8 632 254.5 632.2 245 632.3 240.3 632.6 221.8 632.8 224.7 632.9 228.6 633.2 234 633.5 237.7 633.8 241.2 634.1 244.3 634.4 247.4 634.7 249.9 635 252.4 635.3 254.4 635.6 255.5 635.9 256.9 636.2 258 636.5 259 636.8 259.4 637.1 260.3 637.4 260.9 637.7 261.8 638 261.1 638.3 262 638.6 261.3 638.9 262.1 639.2 262.4 639.5 262.5 639.8 263.3 640.1 263.3 640.4 263.1 640.7 263.5 641 264 641.3 263.9 641.6 263.5 641.9 263.3 642.2 263.3 642.5 263.7 642.8 263.2 643.1 263.1 643.4 263.3 643.7 263.2 644 263 644.3 263.7 644.6 264.2 644.9 264 645.2 263.7 645.5 263.2 645.5 261.9 645.8 249.1 645.9 244.3 646.1 233.1 646.3 219.9 646.4 223.1 646.5 223.8 646.7 229.5 647 235 647.3 239.7 647.6 242.5 647.9 245.4 648.2 248.7 648.5 249.9 648.8 251.2 649.1 253.3 649.4 254.9 649.7 256.8 650 258.1 650.3 258.8 650.6 260.2 650.9 260.4 651.2 260.7 651.5 261.3 651.8 261.3 652.1 261.3 652.4 261.8 652.7 261.8 653 262.8 653.3 263 653.6 263 653.9 262.3 654.2 262.4 654.5 262.5 654.8 262.8 655.1 263.1 655.4 263.7 655.7 264.3 656 264 656.3 263.7 656.6 263.8 656.9 264.5 657.2 263.9 657.5 263.8 657.8 264.2 658.1 263.4 658.4 263.2 658.7 264.1 659 264.4 659 264.1 659.3 253.4 659.5 242.7 659.6 236.5 659.9 215.7 660 220.2 660.2 224 660.5 229.9 660.8 234.4 661.1 238.6 661.4 242.5 661.7 245.8 662 248.1 662.3 250 662.6 252.5 662.9 254.4 663.2 255.5 663.5 257.6 663.8 258.5 664.1 258.4 664.4 259.1 664.7 260.3 665 260.4 665.3 261.2 665.6 260.7 665.9 260.9 666.2 262 666.5 262.3 666.8 262.7 667.1 262.3 667.4 262.5 667.7 262.8 668 262.5 668.3 263 668.6 263.1 668.9 263.9 669.2 263.8 669.5 263.5 669.8 262.9 670.1 262.5 670.4 263.2 670.7 262.7 671 262.3 671.3 262.2 671.6 262.7 671.9 263.5 672.2 263.7 672.5 264.1 672.9 262 673.3 230 673.6 213.5 674 222 674.4 235" fill="none" stroke="#000" stroke-width="1.45" stroke-linejoin="round"/>
<path d="M157.7 153.1 158 154.9 158.3 159 158.6 160.3 158.9 162.4 159.2 165.2 159.5 165 159.8 166 160.1 167.1 160.4 167.9 160.7 169.4 161 171 161.3 171.7 161.6 172.9 161.9 174.1 162.2 175.1 162.5 175.3 162.8 176.8 163.1 179.2 163.4 179.5 163.7 181.2 164 181.4 164.3 182.9 164.6 185.3 164.9 186 165.2 188 165.5 188.5 165.8 189.4 166.1 190.5 166.4 191.8 166.7 193.5 167 195.2 167.3 195.6 167.6 197.4 167.9 197 168.2 198.2 168.5 199.4 168.8 202.1 169.1 202 169.4 204.3 169.7 206 170 205.8 170.3 207.4 170.6 209.9 170.9 209.2 171.2 211.2 171.5 211.7 171.8 214 172.1 214.8 172.4 214.8 172.7 217.3 173 217.3 173.3 220 173.6 219 173.9 219.4 174.2 220.4 174.5 221.3 174.8 222.6 175.1 221.7 175.4 223.1 175.7 222.6 176 224.4 176.3 223.5 176.6 225.3 176.9 224.6 177.2 225 177.5 226.4 177.8 227.1 178.1 227 178.4 228 178.7 227.6 179 228 179.3 229.1 179.6 230.5 179.9 230.5 180.2 230.6 180.5 230.9 180.8 232.5 181.1 231.8 181.4 233.9 181.7 234.1 182 234.4 182.3 235.4 182.6 237.3 182.9 237.7 183.2 239.8 183.5 240.3 183.8 240.8 184.1 242 184.4 243.6 184.7 244.4 185 247.1 185.3 246.8 185.6 247.8 185.9 248.5 186.2 249.7 186.5 252.2 186.8 251.6 187.1 252.7 187.4 253 187.7 255 188 255.4 188.3 256 188.6 257.1 188.9 258 189.2 259.1 189.5 260.2 189.8 261.1 190.1 261.5 190.4 261.3" fill="none" stroke="#000" stroke-width="1.9" stroke-linejoin="round" stroke-linecap="round"/>
<path d="M461.9 136.4 462.2 138.7 462.5 139.9 462.8 142.5 463.1 143.3 463.4 145.9 463.7 146.4 464 147.2 464.3 147.5 464.6 148.7 464.9 149.1 465.2 150.6 465.5 150.5 465.8 151.1 466.1 151.3 466.4 152.7 466.7 152.3 467 151.9 467.3 153.5 467.6 152.7 467.9 153.5 468.2 153.2 468.5 154.2 468.8 155.8 469.1 156.9 469.4 157.9 469.7 160 470 160.7 470.3 162.1 470.6 163.9 470.9 163.1 471.2 165 471.5 166.2 471.8 167.9 472.1 168 472.4 170.2 472.7 170.8 473 172.5 473.3 172.4 473.6 174.7 473.9 175.5 474.2 176.4 474.5 178.4 474.8 178.8 475.1 180.3 475.4 180.2 475.7 180.8 476 182.3 476.3 183.1 476.6 184.1 476.9 184.9 477.2 187.1 477.5 187 477.8 188.5 478.1 189.8 478.4 190.2 478.7 192.3 479 193.2 479.3 194.1 479.6 195 479.9 193.9 480.2 196.7 480.5 195.9 480.8 196.4 481.1 198.5 481.4 197.9 481.7 200 482 200.9 482.3 201.4 482.6 202.8 482.9 203.9 483.2 204.7 483.5 206 483.8 207.5 484.1 207.3 484.4 208.2 484.7 209.2 485 210.6 485.3 212.5 485.6 214.5 485.9 215.6 486.2 216.2 486.5 218 486.8 218.2 487.1 218.7 487.4 221.2 487.7 222.4 488 224.3 488.3 225.6 488.6 225.8 488.9 226 489.2 228.6 489.5 230.3 489.8 230.7 490.1 232.6 490.4 233.1 490.7 234.6 491 235.2 491.3 236.7 491.6 237.7 491.9 240.5 492.2 241.4 492.5 241.6 492.8 243.5 493.1 245.2 493.4 246.4 493.7 247.3 494 248 494.3 249 494.6 251.2 494.9 252.4 495.2 252.8 495.5 253.6 495.8 254.3 496.1 254.2 496.4 255.6 496.7 255.5 497 256.2 497.3 258.9 497.6 258.5 497.9 260.2 498.2 259.8 498.5 260.4 498.8 260.8" fill="none" stroke="#000" stroke-width="1.9" stroke-linejoin="round" stroke-linecap="round"/>
<g>
<text x="0.9" y="296.7" font-size="13.4">B</text>
<path d="M51.5 305.7 V521.1" stroke="#000" stroke-width="1.3" fill="none"/>
<path d="M46 520.5 H135.3" stroke="#000" stroke-width="1.3" fill="none"/>
<path d="M45 520.5 H51.5" stroke="#000" stroke-width="1.2"/>
<text transform="translate(42.4 526.5) scale(0.9 1)" font-size="14.1" text-anchor="end">0</text>
<path d="M45 484.9 H51.5" stroke="#000" stroke-width="1.2"/>
<text transform="translate(42.6 490.9) scale(0.9 1)" font-size="14.1" text-anchor="end">50</text>
<path d="M45 448.9 H51.5" stroke="#000" stroke-width="1.2"/>
<text transform="translate(44.6 454.9) scale(0.9 1)" font-size="14.1" text-anchor="end">100</text>
<path d="M45 413.5 H51.5" stroke="#000" stroke-width="1.2"/>
<text transform="translate(44.6 419.5) scale(0.9 1)" font-size="14.1" text-anchor="end">150</text>
<path d="M45 377.7 H51.5" stroke="#000" stroke-width="1.2"/>
<text transform="translate(44.6 383.7) scale(0.9 1)" font-size="14.1" text-anchor="end">200</text>
<path d="M45 342.2 H51.5" stroke="#000" stroke-width="1.2"/>
<text transform="translate(44.6 348.2) scale(0.9 1)" font-size="14.1" text-anchor="end">250</text>
<path d="M45 306.3 H51.5" stroke="#000" stroke-width="1.2"/>
<text transform="translate(44.6 312.3) scale(0.9 1)" font-size="14.1" text-anchor="end">300</text>
<path d="M48.1 502.7 H51.5" stroke="#000" stroke-width="1.1"/>
<path d="M48.1 466.9 H51.5" stroke="#000" stroke-width="1.1"/>
<path d="M48.1 431.2 H51.5" stroke="#000" stroke-width="1.1"/>
<path d="M48.1 395.6 H51.5" stroke="#000" stroke-width="1.1"/>
<path d="M48.1 359.9 H51.5" stroke="#000" stroke-width="1.1"/>
<path d="M48.1 324.2 H51.5" stroke="#000" stroke-width="1.1"/>
<text transform="translate(17.2 497.6) rotate(-90)" font-size="17.9">AP Ca<tspan font-size="11.5" dy="-6.5">2+</tspan><tspan dy="6.5"> </tspan>transient (%)</text>
<rect x="59.2" y="449.1" width="29.2" height="71.4" fill="#b3b3b3" stroke="#1c1c1c" stroke-width="1.5"/>
<text transform="translate(80.2 513.2) rotate(-90)" font-size="21.8">Ctrl</text>
<path d="M111.6 395 V387.4 M103.6 387.4 H119.6" stroke="#000" stroke-width="1.3" fill="none"/>
<rect x="96.2" y="395" width="31.5" height="126.1" fill="#000"/>
<text transform="translate(117.3 511.3) rotate(-90)" font-size="20.1" style="fill:#fff">Cpd<tspan font-family='"Liberation Serif", "Times New Roman", serif' font-size="21" dx="3.4">1</tspan></text>
<text x="107.8" y="363.5" font-size="29" text-anchor="middle">*</text>
<ellipse cx="108.3" cy="359.7" rx="2.4" ry="2" fill="#fff" stroke="#858585" stroke-width="1.05"/>
<ellipse cx="111.6" cy="370.6" rx="2.4" ry="2" fill="#fff" stroke="#858585" stroke-width="1.05"/>
<ellipse cx="118.2" cy="367.5" rx="2.4" ry="2" fill="#fff" stroke="#858585" stroke-width="1.05"/>
<ellipse cx="107.1" cy="378.2" rx="2.4" ry="2" fill="#fff" stroke="#858585" stroke-width="1.05"/>
<ellipse cx="115.9" cy="380.1" rx="2.4" ry="2" fill="#fff" stroke="#858585" stroke-width="1.05"/>
<ellipse cx="115.9" cy="382.6" rx="2.4" ry="2" fill="#fff" stroke="#858585" stroke-width="1.05"/>
<ellipse cx="114.7" cy="390.2" rx="2.4" ry="2" fill="#fff" stroke="#858585" stroke-width="1.05"/>
<ellipse cx="117.2" cy="405.3" rx="2.6" ry="2" fill="#fff"/>
<ellipse cx="110.6" cy="417" rx="2.6" ry="2" fill="#fff"/>
<ellipse cx="109.6" cy="424.8" rx="2.6" ry="2" fill="#fff"/>
<ellipse cx="112.8" cy="439.8" rx="2.6" ry="2" fill="#fff"/>
</g>
<g>
<text x="141.4" y="296.7" font-size="13.4">C</text>
<path d="M194.4 307.6 V521.5" stroke="#000" stroke-width="1.3" fill="none"/>
<path d="M188.4 520.9 H280" stroke="#000" stroke-width="1.3" fill="none"/>
<path d="M187.9 520.9 H194.4" stroke="#000" stroke-width="1.2"/>
<text transform="translate(187.2 526.4) scale(1 1)" font-size="14.2" text-anchor="end">0</text>
<path d="M187.9 478.2 H194.4" stroke="#000" stroke-width="1.2"/>
<text transform="translate(187.2 483.7) scale(1 1)" font-size="14.2" text-anchor="end">50</text>
<path d="M187.9 438.2 H194.4" stroke="#000" stroke-width="1.2"/>
<text transform="translate(187.2 443.7) scale(1 1)" font-size="14.2" text-anchor="end">100</text>
<path d="M187.9 393.5 H194.4" stroke="#000" stroke-width="1.2"/>
<text transform="translate(187.2 399) scale(1 1)" font-size="14.2" text-anchor="end">150</text>
<path d="M187.9 351 H194.4" stroke="#000" stroke-width="1.2"/>
<text transform="translate(187.2 356.5) scale(1 1)" font-size="14.2" text-anchor="end">200</text>
<path d="M187.9 308.2 H194.4" stroke="#000" stroke-width="1.2"/>
<text transform="translate(187.2 313.7) scale(1 1)" font-size="14.2" text-anchor="end">250</text>
<path d="M191 499.5 H194.4" stroke="#000" stroke-width="1.1"/>
<path d="M191 458.2 H194.4" stroke="#000" stroke-width="1.1"/>
<path d="M191 415.9 H194.4" stroke="#000" stroke-width="1.1"/>
<path d="M191 372.2 H194.4" stroke="#000" stroke-width="1.1"/>
<path d="M191 329.6 H194.4" stroke="#000" stroke-width="1.1"/>
<text transform="translate(158.2 482.2) rotate(-90)" font-size="17.7">SR Ca<tspan font-size="11.3" dy="-6.4">2+</tspan><tspan dy="6.4"> </tspan>load (%)</text>
<rect x="202" y="435.1" width="31.8" height="85.9" fill="#b3b3b3" stroke="#1c1c1c" stroke-width="1.5"/>
<text transform="translate(226.8 513.2) rotate(-90)" font-size="21.8">Ctrl</text>
<path d="M257.2 386.1 V374.1 M248.7 374.1 H265.7" stroke="#000" stroke-width="1.3" fill="none"/>
<rect x="240.9" y="386.1" width="31.9" height="135.4" fill="#000"/>
<text transform="translate(262.3 517.8) rotate(-90)" font-size="20.1" style="fill:#fff">Cpd<tspan font-family='"Liberation Serif", "Times New Roman", serif' font-size="21" dx="3.4">1</tspan></text>
<text x="257.6" y="358.5" font-size="29" text-anchor="middle">*</text>
<ellipse cx="250.1" cy="322.8" rx="2.4" ry="2" fill="#fff" stroke="#858585" stroke-width="1.05"/>
<ellipse cx="254.3" cy="354.2" rx="2.4" ry="2" fill="#fff" stroke="#858585" stroke-width="1.05"/>
<ellipse cx="247.5" cy="359.2" rx="2.4" ry="2" fill="#fff" stroke="#858585" stroke-width="1.05"/>
<ellipse cx="256.5" cy="363.2" rx="2.4" ry="2" fill="#fff" stroke="#858585" stroke-width="1.05"/>
<ellipse cx="257.4" cy="385.6" rx="2.9" ry="2.1" fill="#fff"/>
<ellipse cx="251" cy="393.2" rx="2.9" ry="2.1" fill="#fff"/>
<ellipse cx="251" cy="404.3" rx="2.9" ry="2.1" fill="#fff"/>
<ellipse cx="255.8" cy="422.4" rx="2.9" ry="2.1" fill="#fff"/>
<ellipse cx="260" cy="424.8" rx="2.9" ry="2.1" fill="#fff"/>
</g>
<g>
<text x="284.8" y="296.3" font-size="13.4">D</text>
<path d="M346.9 309.8 V520.1" stroke="#000" stroke-width="1.3" fill="none"/>
<path d="M341.5 519.5 H441" stroke="#000" stroke-width="1.3" fill="none"/>
<path d="M342.4 519.5 H346.9" stroke="#000" stroke-width="1.2"/>
<text transform="translate(340.2 524.1) scale(0.9 1)" font-size="14.8" text-anchor="end">0</text>
<path d="M342.4 485.2 H346.9" stroke="#000" stroke-width="1.2"/>
<text transform="translate(338.9 489.8) scale(0.9 1)" font-size="14.8" text-anchor="end">25</text>
<path d="M342.4 450 H346.9" stroke="#000" stroke-width="1.2"/>
<text transform="translate(338.9 454.6) scale(0.9 1)" font-size="14.8" text-anchor="end">50</text>
<path d="M342.4 414.7 H346.9" stroke="#000" stroke-width="1.2"/>
<text transform="translate(338.9 419.3) scale(0.9 1)" font-size="14.8" text-anchor="end">75</text>
<path d="M342.4 379.8 H346.9" stroke="#000" stroke-width="1.2"/>
<text transform="translate(342.8 384.4) scale(0.9 1)" font-size="14.8" text-anchor="end">100</text>
<path d="M342.4 345.1 H346.9" stroke="#000" stroke-width="1.2"/>
<text transform="translate(342.8 349.7) scale(0.9 1)" font-size="14.8" text-anchor="end">125</text>
<path d="M342.4 310.4 H346.9" stroke="#000" stroke-width="1.2"/>
<text transform="translate(342.8 315) scale(0.9 1)" font-size="14.8" text-anchor="end">150</text>
<path d="M344.6 502.4 H346.9" stroke="#000" stroke-width="1.1"/>
<path d="M344.6 467.6 H346.9" stroke="#000" stroke-width="1.1"/>
<path d="M344.6 432.4 H346.9" stroke="#000" stroke-width="1.1"/>
<path d="M344.6 397.2 H346.9" stroke="#000" stroke-width="1.1"/>
<path d="M344.6 362.5 H346.9" stroke="#000" stroke-width="1.1"/>
<path d="M344.6 327.8 H346.9" stroke="#000" stroke-width="1.1"/>
<text transform="translate(312.6 527.5) rotate(-90)" font-size="17.8">AP Ca<tspan font-size="11.4" dy="-6.4">2+</tspan><tspan dy="6.4"> </tspan>transient decay (%)</text>
<rect x="357.9" y="379.9" width="30.8" height="139.6" fill="#b3b3b3" stroke="#1c1c1c" stroke-width="1.5"/>
<text transform="translate(380.2 514.8) rotate(-90)" font-size="21.8">Ctrl</text>
<path d="M417.1 399 V395 M413.1 395 H421.1" stroke="#000" stroke-width="1.3" fill="none"/>
<rect x="397" y="399" width="36" height="121.1" fill="#000"/>
<text transform="translate(423.2 510.2) rotate(-90)" font-size="20.1" style="fill:#fff">Cpd<tspan font-family='"Liberation Serif", "Times New Roman", serif' font-size="21" dx="3.4">1</tspan></text>
<text x="417.1" y="386.9" font-size="29" text-anchor="middle">*</text>
<ellipse cx="415.1" cy="384.2" rx="2.5" ry="1.9" fill="#fff" stroke="#858585" stroke-width="1.05"/>
<ellipse cx="409.8" cy="388.7" rx="2.5" ry="1.9" fill="#fff" stroke="#858585" stroke-width="1.05"/>
<ellipse cx="413.6" cy="389.8" rx="2.5" ry="1.9" fill="#fff" stroke="#858585" stroke-width="1.05"/>
<ellipse cx="420.8" cy="389" rx="2.5" ry="1.9" fill="#fff" stroke="#858585" stroke-width="1.05"/>
<ellipse cx="423.9" cy="391" rx="2.5" ry="1.9" fill="#fff" stroke="#858585" stroke-width="1.05"/>
<ellipse cx="417.1" cy="396" rx="2.5" ry="1.9" fill="#fff" stroke="#858585" stroke-width="1.05"/>
<ellipse cx="420.1" cy="399" rx="2.6" ry="1.9" fill="#fff"/>
<ellipse cx="413" cy="401.6" rx="2.6" ry="1.9" fill="#fff"/>
<ellipse cx="411.5" cy="405.4" rx="2.6" ry="1.9" fill="#fff"/>
<ellipse cx="416.3" cy="405.4" rx="2.6" ry="1.9" fill="#fff"/>
<ellipse cx="422.4" cy="404.9" rx="2.6" ry="1.9" fill="#fff"/>
</g>
<g>
<text x="448.8" y="296.7" font-size="13.4">E</text>
<path d="M500.9 308 V520.9" stroke="#000" stroke-width="1.3" fill="none"/>
<path d="M494.6 520.3 H586.6" stroke="#000" stroke-width="1.3" fill="none"/>
<path d="M494.9 520.3 H500.9" stroke="#000" stroke-width="1.2"/>
<text transform="translate(495.2 526.3) scale(1 1)" font-size="14.5" text-anchor="end">0</text>
<path d="M494.9 485.4 H500.9" stroke="#000" stroke-width="1.2"/>
<text transform="translate(495.2 491.4) scale(1 1)" font-size="14.5" text-anchor="end">50</text>
<path d="M494.9 452 H500.9" stroke="#000" stroke-width="1.2"/>
<text transform="translate(495.2 458) scale(1 1)" font-size="14.5" text-anchor="end">100</text>
<path d="M494.9 416.4 H500.9" stroke="#000" stroke-width="1.2"/>
<text transform="translate(495.2 422.4) scale(1 1)" font-size="14.5" text-anchor="end">150</text>
<path d="M494.9 379.7 H500.9" stroke="#000" stroke-width="1.2"/>
<text transform="translate(495.2 385.7) scale(1 1)" font-size="14.5" text-anchor="end">200</text>
<path d="M494.9 344.5 H500.9" stroke="#000" stroke-width="1.2"/>
<text transform="translate(495.2 350.5) scale(1 1)" font-size="14.5" text-anchor="end">250</text>
<path d="M494.9 308.6 H500.9" stroke="#000" stroke-width="1.2"/>
<text transform="translate(495.2 314.6) scale(1 1)" font-size="14.5" text-anchor="end">300</text>
<path d="M497.8 502.8 H500.9" stroke="#000" stroke-width="1.1"/>
<path d="M497.8 468.7 H500.9" stroke="#000" stroke-width="1.1"/>
<path d="M497.8 434.2 H500.9" stroke="#000" stroke-width="1.1"/>
<path d="M497.8 398 H500.9" stroke="#000" stroke-width="1.1"/>
<path d="M497.8 362.1 H500.9" stroke="#000" stroke-width="1.1"/>
<path d="M497.8 326.6 H500.9" stroke="#000" stroke-width="1.1"/>
<text transform="translate(465.4 501.2) rotate(-90)" font-size="18.1">NCX Ca<tspan font-size="11.6" dy="-6.5">2+</tspan><tspan dy="6.5"> </tspan>decay (%)</text>
<rect x="509.4" y="448.9" width="31.3" height="71.5" fill="#b3b3b3" stroke="#1c1c1c" stroke-width="1.5"/>
<text transform="translate(532.8 514) rotate(-90)" font-size="21.8">Ctrl</text>
<path d="M562.8 443.2 V437 M554.1 437 H571.5" stroke="#000" stroke-width="1.3" fill="none"/>
<rect x="548" y="443.2" width="31.4" height="77.7" fill="#000"/>
<text transform="translate(569 514) rotate(-90)" font-size="20.1" style="fill:#fff">Cpd<tspan font-family='"Liberation Serif", "Times New Roman", serif' font-size="21" dx="3.4">1</tspan></text>
<ellipse cx="554.2" cy="420" rx="2.3" ry="1.8" fill="#fff" stroke="#858585" stroke-width="1.05"/>
<ellipse cx="556.4" cy="423.4" rx="2.3" ry="1.8" fill="#fff" stroke="#858585" stroke-width="1.05"/>
<ellipse cx="560.4" cy="427.3" rx="2.3" ry="1.8" fill="#fff" stroke="#858585" stroke-width="1.05"/>
<ellipse cx="565.5" cy="430.7" rx="2.3" ry="1.8" fill="#fff" stroke="#858585" stroke-width="1.05"/>
<ellipse cx="554.7" cy="431.3" rx="2.3" ry="1.8" fill="#fff" stroke="#858585" stroke-width="1.05"/>
<ellipse cx="559" cy="436.1" rx="2.3" ry="1.8" fill="#fff" stroke="#858585" stroke-width="1.05"/>
<ellipse cx="563.2" cy="439" rx="2.3" ry="1.8" fill="#fff" stroke="#858585" stroke-width="1.05"/>
<ellipse cx="562.4" cy="446.5" rx="2" ry="1.7" fill="#fff"/>
<ellipse cx="564.7" cy="453.1" rx="2" ry="1.7" fill="#fff"/>
<ellipse cx="561.3" cy="455.9" rx="2" ry="1.7" fill="#fff"/>
<ellipse cx="557.9" cy="458.8" rx="2" ry="1.7" fill="#fff"/>
</g>
<g>
<text x="598.3" y="296.7" font-size="13.4">F</text>
<path d="M652.6 306.4 V521" stroke="#000" stroke-width="1.3" fill="none"/>
<path d="M647 520.4 H738" stroke="#000" stroke-width="1.3" fill="none"/>
<path d="M648.4 520.4 H652.6" stroke="#000" stroke-width="1.2"/>
<text transform="translate(646.8 527) scale(1 1)" font-size="14.5" text-anchor="end">0</text>
<path d="M648.4 485.4 H652.6" stroke="#000" stroke-width="1.2"/>
<text transform="translate(646.8 492) scale(1 1)" font-size="14.5" text-anchor="end">50</text>
<path d="M648.4 448.8 H652.6" stroke="#000" stroke-width="1.2"/>
<text transform="translate(646.8 455.4) scale(1 1)" font-size="14.5" text-anchor="end">100</text>
<path d="M648.4 414.2 H652.6" stroke="#000" stroke-width="1.2"/>
<text transform="translate(646.8 420.8) scale(1 1)" font-size="14.5" text-anchor="end">150</text>
<path d="M648.4 378.4 H652.6" stroke="#000" stroke-width="1.2"/>
<text transform="translate(646.8 385) scale(1 1)" font-size="14.5" text-anchor="end">200</text>
<path d="M648.4 342.3 H652.6" stroke="#000" stroke-width="1.2"/>
<text transform="translate(646.8 348.9) scale(1 1)" font-size="14.5" text-anchor="end">250</text>
<path d="M648.4 307 H652.6" stroke="#000" stroke-width="1.2"/>
<text transform="translate(646.8 313.6) scale(1 1)" font-size="14.5" text-anchor="end">300</text>
<path d="M650.4 502.9 H652.6" stroke="#000" stroke-width="1.1"/>
<path d="M650.4 467.1 H652.6" stroke="#000" stroke-width="1.1"/>
<path d="M650.4 431.5 H652.6" stroke="#000" stroke-width="1.1"/>
<path d="M650.4 396.3 H652.6" stroke="#000" stroke-width="1.1"/>
<path d="M650.4 360.4 H652.6" stroke="#000" stroke-width="1.1"/>
<path d="M650.4 324.6 H652.6" stroke="#000" stroke-width="1.1"/>
<text transform="translate(616.2 516.5) rotate(-90)" font-size="17.8">LTCC Ca<tspan font-size="11.4" dy="-6.4">2+</tspan><tspan dy="6.4"> </tspan>transient (%)</text>
<rect x="660.8" y="449.1" width="30.8" height="71.4" fill="#b3b3b3" stroke="#1c1c1c" stroke-width="1.5"/>
<text transform="translate(683.6 511.4) rotate(-90)" font-size="21.8">Ctrl</text>
<path d="M714.4 433.4 V422.6 M706.6 422.6 H722.2" stroke="#000" stroke-width="1.3" fill="none"/>
<rect x="698.8" y="433.4" width="31.6" height="87.6" fill="#000"/>
<text transform="translate(720.1 512.4) rotate(-90)" font-size="20.1" style="fill:#fff">Cpd<tspan font-family='"Liberation Serif", "Times New Roman", serif' font-size="21" dx="3.4">1</tspan></text>
<ellipse cx="713.4" cy="401.2" rx="2.2" ry="2" fill="#fff" stroke="#858585" stroke-width="1.05"/>
<ellipse cx="709" cy="408.5" rx="2.2" ry="2" fill="#fff" stroke="#858585" stroke-width="1.05"/>
<ellipse cx="709.7" cy="415.1" rx="2.2" ry="2" fill="#fff" stroke="#858585" stroke-width="1.05"/>
<ellipse cx="718.7" cy="417.1" rx="2.2" ry="2" fill="#fff" stroke="#858585" stroke-width="1.05"/>
<ellipse cx="708" cy="421.5" rx="2.2" ry="2" fill="#fff" stroke="#858585" stroke-width="1.05"/>
<ellipse cx="712.7" cy="438.2" rx="2.3" ry="1.9" fill="#fff"/>
<ellipse cx="716.5" cy="439.2" rx="2.3" ry="1.9" fill="#fff"/>
<ellipse cx="718" cy="445.8" rx="2.3" ry="1.9" fill="#fff"/>
<ellipse cx="716.1" cy="448.3" rx="2.3" ry="1.9" fill="#fff"/>
<ellipse cx="718" cy="455.2" rx="2.3" ry="1.9" fill="#fff"/>
<ellipse cx="711.2" cy="460.2" rx="2.3" ry="1.9" fill="#fff"/>
<ellipse cx="715" cy="460.5" rx="2.3" ry="1.9" fill="#fff"/>
</g>
</svg>
</body></html>
